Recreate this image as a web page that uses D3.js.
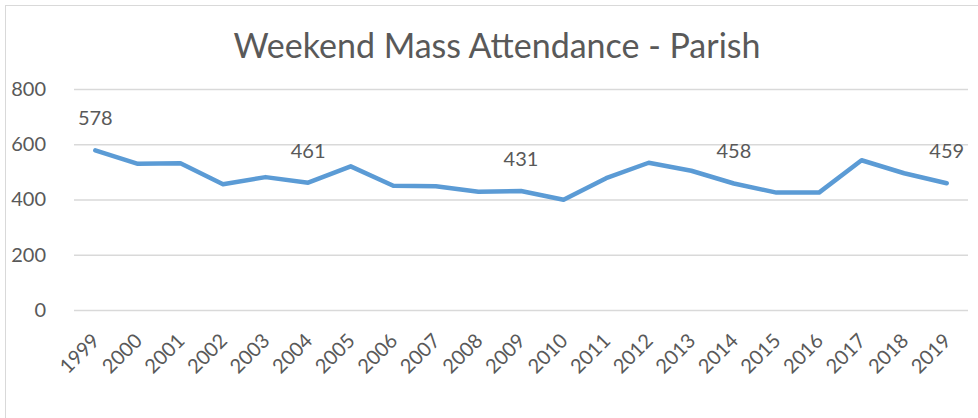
<!DOCTYPE html>
<html>
<head>
<meta charset="utf-8">
<script src="https://cdn.jsdelivr.net/npm/d3@7"></script>
<style>
  body { margin: 0; background: #fff; }
  text { font-family: Lato, "Open Sans", sans-serif; fill: #595959; }
</style>
</head>
<body>
<div id="chart"></div>
<script>
// data
var years = ["1999", "2000", "2001", "2002", "2003", "2004", "2005", "2006", "2007", "2008",
             "2009", "2010", "2011", "2012", "2013", "2014", "2015", "2016", "2017", "2018", "2019"];
var attendance = [578, 529, 531, 455, 481, 461, 520, 450, 448, 428,
                  431, 399, 477, 533, 504, 458, 425, 425, 542, 495, 459];
var labelledYears = ["1999", "2004", "2009", "2014", "2019"];
var yTicks = [0, 200, 400, 600, 800];

var W = 978, H = 418;
var margin = {top: 89, right: 10, bottom: 108, left: 74};
var plotW = 968 - margin.left;
var plotH = 310 - margin.top;

var svg = d3.select("#chart").append("svg")
    .attr("width", W)
    .attr("height", H);

// chart frame (right / bottom edges fall outside the picture)
svg.append("rect")
    .attr("x", 5.5).attr("y", 5.5)
    .attr("width", W + 10).attr("height", H + 10)
    .attr("fill", "none")
    .attr("stroke", "#d9d9d9");

svg.append("text")
    .attr("x", 497)
    .attr("y", 58)
    .attr("text-anchor", "middle")
    .style("font-size", "34px")
    .text("Weekend Mass Attendance - Parish");

var g = svg.append("g")
    .attr("transform", "translate(" + margin.left + "," + margin.top + ")");

var x = d3.scalePoint()
    .domain(years)
    .range([0, plotW])
    .padding(0.5);

var y = d3.scaleLinear()
    .domain([0, 800])
    .range([plotH, 0]);

// gridlines
var grid = g.append("g")
    .call(d3.axisLeft(y).tickValues(yTicks).tickSize(-plotW).tickFormat(""));
grid.select(".domain").remove();
grid.selectAll("line").attr("stroke", "#d9d9d9").attr("stroke-width", 1.3);

// y axis labels
var yAxis = g.append("g")
    .attr("transform", "translate(-28,0)")
    .call(d3.axisLeft(y).tickValues(yTicks).tickSize(0));
yAxis.select(".domain").remove();
yAxis.selectAll("text")
    .attr("x", 0)
    .style("font-size", "20px")
    .attr("fill", "#595959");

// x axis labels, rotated
var xAxis = g.append("g")
    .attr("transform", "translate(0," + plotH + ")")
    .call(d3.axisBottom(x).tickSize(0));
xAxis.select(".domain").remove();
xAxis.selectAll("text")
    .style("font-size", "20px")
    .attr("fill", "#595959")
    .attr("text-anchor", "end")
    .attr("x", 0).attr("y", 0).attr("dy", 0)
    .attr("transform", "translate(5,32) rotate(-45)");

// line
var line = d3.line()
    .x(function(d, i) { return x(years[i]); })
    .y(function(d) { return y(d); });

g.append("path")
    .datum(attendance)
    .attr("fill", "none")
    .attr("stroke", "#5b9bd5")
    .attr("stroke-width", 4.5)
    .attr("stroke-linejoin", "round")
    .attr("stroke-linecap", "round")
    .attr("d", line);

// data labels
g.selectAll(".dlabel")
    .data(years.map(function(yr, i) { return {year: yr, v: attendance[i]}; })
        .filter(function(d) { return labelledYears.indexOf(d.year) >= 0; }))
    .enter()
  .append("text")
    .attr("class", "dlabel")
    .attr("x", function(d) { return x(d.year); })
    .attr("y", function(d) { return y(d.v) - 25; })
    .attr("text-anchor", "middle")
    .style("font-size", "20px")
    .text(function(d) { return d.v; });
</script>
</body>
</html>
